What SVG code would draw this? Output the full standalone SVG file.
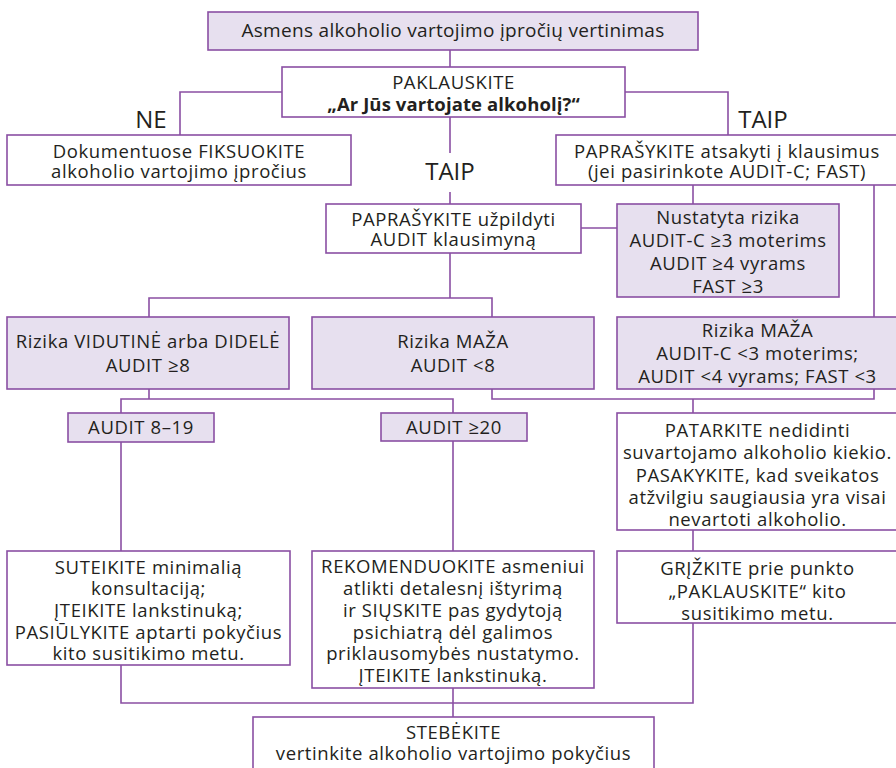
<svg xmlns="http://www.w3.org/2000/svg" width="896" height="768" viewBox="0 0 896 768">
<style>
.box{fill:#ffffff;stroke:#8a4fa3;stroke-width:1.6}
.sh{fill:#e7e0ef;stroke:#8a4fa3;stroke-width:1.6}
.ln{fill:none;stroke:#8a4fa3;stroke-width:1.6}
text{font-family:"Open Sans","Noto Sans","DejaVu Sans",sans-serif;font-size:18.5px;letter-spacing:0.6px;fill:#231f20;text-anchor:middle}
.t{font-size:19px;letter-spacing:0.3px}
.b{font-weight:bold;letter-spacing:0.1px}
.lab{font-size:24px;letter-spacing:0}
</style>
<rect width="896" height="768" fill="#ffffff"/>
<g id="connectors">
<path class="ln" d="M450 50V67"/>
<path class="ln" d="M282 92H180V135"/>
<path class="ln" d="M625 92H728V135"/>
<path class="ln" d="M450 117V153M450 192V204"/>
<path class="ln" d="M581 228H617"/>
<path class="ln" d="M693 185V204"/>
<path class="ln" d="M874 185V317"/>
<path class="ln" d="M450 253V298M149 317V298H492V317"/>
<path class="ln" d="M149 389V399M121 413V399H453V413"/>
<path class="ln" d="M492 389V399H874V389M693 399V413"/>
<path class="ln" d="M121 442V551"/>
<path class="ln" d="M453 441V551"/>
<path class="ln" d="M693 530V551"/>
<path class="ln" d="M121 665V703H693V623"/>
<path class="ln" d="M453 688V717"/>
</g>
<g id="n-title">
<rect class="sh" x="208" y="12" width="490" height="38"/>
<text class="t" x="453" y="37">Asmens alkoholio vartojimo įpročių vertinimas</text>
</g>
<g id="n-ask">
<rect class="box" x="282" y="67" width="343" height="50"/>
<text x="453.5" y="89" letter-spacing="1">PAKLAUSKITE</text>
<text class="b" x="453.5" y="111">„Ar Jūs vartojate alkoholį?“</text>
</g>
<g id="l-ne"><text class="lab" x="151" y="128">NE</text></g>
<g id="l-taip-r"><text class="lab" x="763" y="128">TAIP</text></g>
<g id="l-taip-c"><text class="lab" x="450" y="180">TAIP</text></g>
<g id="n-doc">
<rect class="box" x="7" y="135" width="344" height="50"/>
<text x="179" y="158">Dokumentuose FIKSUOKITE</text>
<text x="179" y="178">alkoholio vartojimo įpročius</text>
</g>
<g id="n-ask2">
<rect class="box" x="556" y="135" width="342" height="50"/>
<text x="727" y="158">PAPRAŠYKITE atsakyti į klausimus</text>
<text x="727" y="178">(jei pasirinkote AUDIT-C; FAST)</text>
</g>
<g id="n-audit">
<rect class="box" x="326" y="204" width="255" height="49"/>
<text x="453.5" y="226">PAPRAŠYKITE užpildyti</text>
<text x="453.5" y="246">AUDIT klausimyną</text>
</g>
<g id="n-risk">
<rect class="sh" x="617" y="204" width="222" height="93"/>
<text x="728" y="224">Nustatyta rizika</text>
<text x="728" y="247">AUDIT-C ≥3 moterims</text>
<text x="728" y="270">AUDIT ≥4 vyrams</text>
<text x="728" y="293">FAST ≥3</text>
</g>
<g id="n-high">
<rect class="sh" x="7" y="317" width="282" height="72"/>
<text x="148" y="348">Rizika VIDUTINĖ arba DIDELĖ</text>
<text x="148" y="372">AUDIT ≥8</text>
</g>
<g id="n-low">
<rect class="sh" x="312" y="317" width="282" height="72"/>
<text x="453" y="348">Rizika MAŽA</text>
<text x="453" y="372">AUDIT &lt;8</text>
</g>
<g id="n-low2">
<rect class="sh" x="617" y="317" width="282" height="72"/>
<text x="757.5" y="337">Rizika MAŽA</text>
<text x="757.5" y="360">AUDIT-C &lt;3 moterims;</text>
<text x="757.5" y="383">AUDIT &lt;4 vyrams; FAST &lt;3</text>
</g>
<g id="n-a819">
<rect class="sh" x="68" y="413" width="146" height="29"/>
<text x="141" y="434">AUDIT 8–19</text>
</g>
<g id="n-a20">
<rect class="sh" x="381" y="413" width="146" height="28"/>
<text x="454" y="434">AUDIT ≥20</text>
</g>
<g id="n-advise">
<rect class="box" x="617" y="413" width="282" height="117"/>
<text x="757.5" y="436.5">PATARKITE nedidinti</text>
<text x="757.5" y="459">suvartojamo alkoholio kiekio.</text>
<text x="757.5" y="481.5">PASAKYKITE, kad sveikatos</text>
<text x="757.5" y="504">atžvilgiu saugiausia yra visai</text>
<text x="757.5" y="526">nevartoti alkoholio.</text>
</g>
<g id="n-consult">
<rect class="box" x="7" y="551" width="283" height="114"/>
<text x="148.5" y="573.5">SUTEIKITE minimalią</text>
<text x="148.5" y="595">konsultaciją;</text>
<text x="148.5" y="617">ĮTEIKITE lankstinuką;</text>
<text x="148.5" y="639">PASIŪLYKITE aptarti pokyčius</text>
<text x="148.5" y="660">kito susitikimo metu.</text>
</g>
<g id="n-refer">
<rect class="box" x="312" y="551" width="282" height="137"/>
<text x="453" y="573">REKOMENDUOKITE asmeniui</text>
<text x="453" y="595">atlikti detalesnį ištyrimą</text>
<text x="453" y="617">ir SIŲSKITE pas gydytoją</text>
<text x="453" y="638.5">psichiatrą dėl galimos</text>
<text x="453" y="660">priklausomybės nustatymo.</text>
<text x="453" y="682">ĮTEIKITE lankstinuką.</text>
</g>
<g id="n-return">
<rect class="box" x="617" y="551" width="282" height="72"/>
<text x="757.5" y="575">GRĮŽKITE prie punkto</text>
<text x="757.5" y="597.5">„PAKLAUSKITE“ kito</text>
<text x="757.5" y="620">susitikimo metu.</text>
</g>
<g id="n-monitor">
<rect class="box" x="253" y="717" width="401" height="60"/>
<text x="453.5" y="739" letter-spacing="1">STEBĖKITE</text>
<text x="453.5" y="760">vertinkite alkoholio vartojimo pokyčius</text>
</g>
</svg>
